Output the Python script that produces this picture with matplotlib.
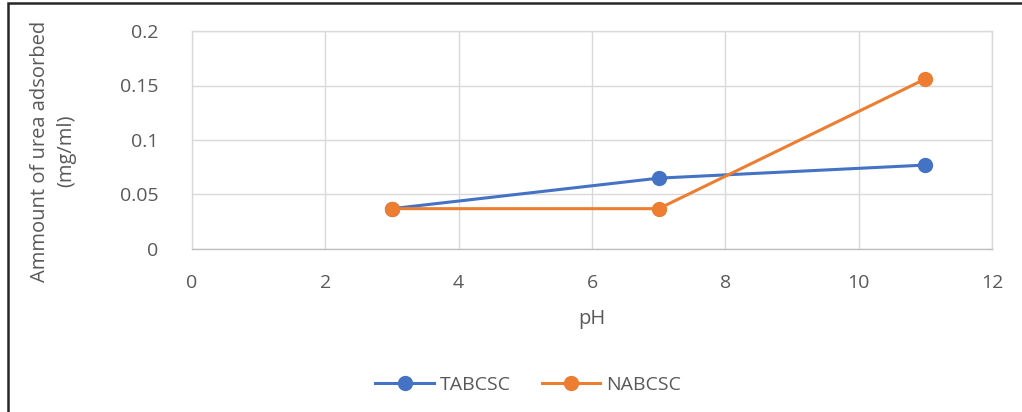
import matplotlib.pyplot as plt
from matplotlib.patches import Rectangle

# pH values and urea adsorbed (mg/ml)
ph = [3, 7, 11]
tabcsc = [0.037, 0.065, 0.077]
nabcsc = [0.037, 0.037, 0.156]
x_ticks = [0, 2, 4, 6, 8, 10, 12]
y_ticks = [0, 0.05, 0.1, 0.15, 0.2]
y_tick_labels = ['0', '0.05', '0.1', '0.15', '0.2']

plt.rcParams['font.family'] = ['Open Sans', 'DejaVu Sans']
grey = '#595959'

fig = plt.figure(figsize=(10.22, 4.12), dpi=100)
ax = fig.add_axes([192 / 1022, 1 - 249 / 412, 800 / 1022, 218 / 412])

ax.plot(ph, tabcsc, color='#4472C4', lw=2.2, marker='o', ms=10, label='TABCSC', zorder=3)
ax.plot(ph, nabcsc, color='#ED7D31', lw=2.2, marker='o', ms=10, label='NABCSC', zorder=3)

ax.set_xlim(0, 12)
ax.set_ylim(0, 0.2)
ax.set_xticks(x_ticks)
ax.set_yticks(y_ticks)
ax.set_yticklabels(y_tick_labels)
ax.tick_params(length=0, labelsize=14, colors=grey)
ax.tick_params(axis='x', pad=18)
ax.tick_params(axis='y', pad=24)
ax.grid(True, color='#D9D9D9', lw=1)
for s in ax.spines.values():
    s.set_color('#D9D9D9')
    s.set_linewidth(1)
ax.spines['bottom'].set_color('#BFBFBF')

ax.set_xlabel('pH', fontsize=14.5, color=grey, labelpad=12)
ax.set_ylabel('Ammount of urea adsorbed\n(mg/ml)', fontsize=14.5, color=grey, linespacing=1.4)
ax.yaxis.set_label_coords(-0.145, 0.45)

ax.legend(loc='center', bbox_to_anchor=(528 / 1022, 1 - 385 / 412), bbox_transform=fig.transFigure,
          ncol=2, frameon=False, fontsize=14, labelcolor=grey, handlelength=3.0, columnspacing=1.6,
          handletextpad=0.3)

# outer chart border
fig.add_artist(Rectangle((8 / 1022, -0.1), 1.1, 1 - 3 / 412 + 0.1, transform=fig.transFigure,
                         fill=False, edgecolor='#262626', lw=1.8, clip_on=False))

fig.savefig('out.png', dpi=100)
